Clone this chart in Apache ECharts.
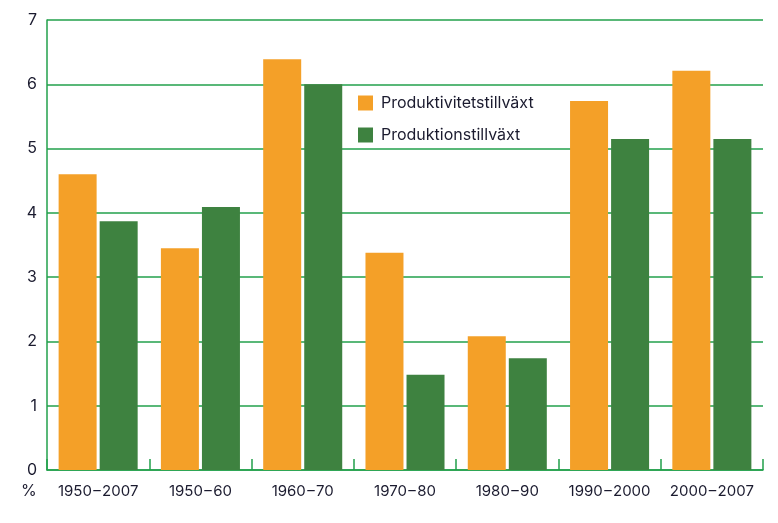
<!DOCTYPE html>
<html>
<head>
<meta charset="utf-8">
<script src="https://cdn.jsdelivr.net/npm/echarts@6/dist/echarts.min.js"></script>
<style>html,body{margin:0;padding:0;background:#fff;}#c{width:778px;height:523px;}</style>
</head>
<body>
<div id="c"></div>
<script>
const categories = ['1950\u200a\u2013\u200a2007', '1950\u200a\u2013\u200a60', '1960\u200a\u2013\u200a70', '1970\u200a\u2013\u200a80', '1980\u200a\u2013\u200a90', '1990\u200a\u2013\u200a2000', '2000\u200a\u2013\u200a2007'];
const productivity = [4.60, 3.45, 6.39, 3.38, 2.08, 5.74, 6.21];
const production = [3.87, 4.09, 6.00, 1.48, 1.74, 5.15, 5.15];
const seriesNames = ['Produktivitetstillväxt', 'Produktionstillväxt'];
const yTicks = [0, 1, 2, 3, 4, 5, 6, 7];

const GREEN_LINE = '#22a04b';
const TEXT = '#1b1b2f';
const FONT = 'Inter, Roboto, sans-serif';

const chart = echarts.init(document.getElementById('c'), null, {renderer: 'canvas'});
chart.setOption({
  animation: false,
  textStyle: {fontFamily: FONT},
  grid: {left: 47, right: 15, top: 20, bottom: 53, containLabel: false},
  legend: {
    orient: 'vertical', left: 353, top: 90,
    itemWidth: 15, itemHeight: 15, itemGap: 16,
    icon: 'rect',
    textStyle: {fontSize: 16, color: TEXT, fontFamily: FONT, padding: [0, 0, 0, 3]},
    data: seriesNames
  },
  xAxis: {
    type: 'category',
    data: categories,
    axisLine: {lineStyle: {color: GREEN_LINE, width: 1.5}},
    axisTick: {show: true, inside: true, length: 11, interval: 0, lineStyle: {color: GREEN_LINE, width: 1.5}},
    axisLabel: {fontSize: 15, color: TEXT, margin: 14, interval: 0, fontFamily: FONT},
    splitLine: {show: false}
  },
  yAxis: {
    type: 'value',
    min: yTicks[0], max: yTicks[yTicks.length - 1], interval: 1,
    axisLine: {show: true, lineStyle: {color: GREEN_LINE, width: 1.5}},
    axisTick: {show: false},
    axisLabel: {fontSize: 16, color: TEXT, margin: 10, fontFamily: FONT},
    splitLine: {show: true, lineStyle: {color: GREEN_LINE, width: 1.5}}
  },
  graphic: [{
    type: 'text', left: 21, top: 483,
    style: {text: '%', fontSize: 16, fill: TEXT, fontFamily: FONT}
  }],
  series: [
    {name: seriesNames[0], type: 'bar', data: productivity, barWidth: 38, barGap: '8%',
     itemStyle: {color: '#f4a028'}},
    {name: seriesNames[1], type: 'bar', data: production, barWidth: 38, barGap: '8%',
     itemStyle: {color: '#3e8240'}}
  ]
});
</script>
</body>
</html>
